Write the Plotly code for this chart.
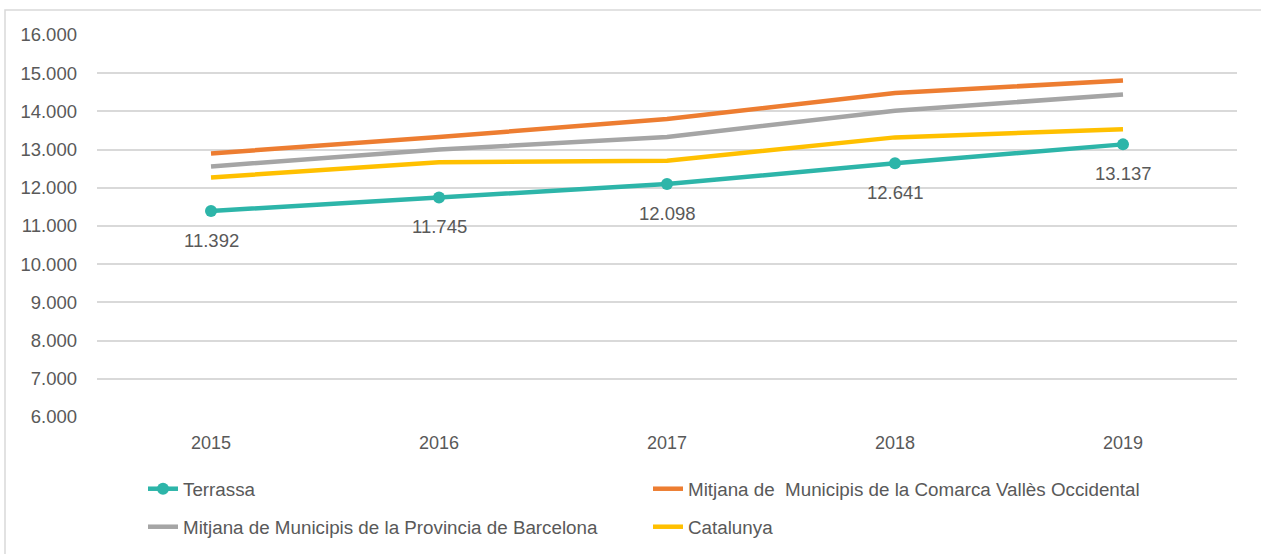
import plotly.graph_objects as go

years = ["2015", "2016", "2017", "2018", "2019"]
terrassa = [11392, 11745, 12098, 12641, 13137]
comarca = [12900, 13330, 13800, 14480, 14810]
provincia = [12560, 13000, 13330, 14020, 14440]
catalunya = [12270, 12670, 12710, 13320, 13530]

names = {
    "terrassa": "Terrassa",
    "comarca": "Mitjana de  Municipis de la Comarca Vallès Occidental",
    "provincia": "Mitjana de Municipis de la Provincia de Barcelona",
    "catalunya": "Catalunya",
}

FONT = "Liberation Sans"
TXT = "#595959"
W, H = 1261, 554
ML, MR, MT, MB = 97, 24, 35, 137
PW, PH = W - ML - MR, H - MT - MB

def px_x(p):
    return (p - ML) / PW

def px_y(p):
    return (H - MB - p) / PH

fig = go.Figure()
fig.add_trace(go.Scatter(x=years, y=catalunya, name=names["catalunya"], mode="lines",
                         line=dict(color="#FFC000", width=4.5), legend="legend2"))
fig.add_trace(go.Scatter(x=years, y=provincia, name=names["provincia"], mode="lines",
                         line=dict(color="#A5A5A5", width=4.5), legend="legend2"))
fig.add_trace(go.Scatter(x=years, y=comarca, name=names["comarca"], mode="lines",
                         line=dict(color="#ED7D31", width=4.5), legend="legend"))
fig.add_trace(go.Scatter(x=years, y=terrassa, name=names["terrassa"], mode="lines+markers",
                         line=dict(color="#2DB5A9", width=4.5),
                         marker=dict(color="#2DB5A9", size=12), legend="legend"))

for i, v in enumerate(terrassa):
    fig.add_annotation(x=i, y=v, xref="x", yref="y", text=f"{v:,}".replace(",", "."),
                       showarrow=False, yshift=-29,
                       font=dict(family=FONT, size=18.5, color=TXT))

fig.add_shape(type="rect", xref="paper", yref="paper",
              x0=px_x(5), x1=px_x(1266), y0=px_y(10), y1=px_y(560),
              line=dict(color="#D9D9D9", width=1.5), fillcolor="rgba(0,0,0,0)", layer="below")

leg_common = dict(orientation="h", xanchor="left", yanchor="middle", entrywidth=460,
                  entrywidthmode="pixels", font=dict(family=FONT, size=18.8, color=TXT),
                  bgcolor="rgba(0,0,0,0)", traceorder="reversed")
fig.update_layout(
    width=W, height=H,
    margin=dict(l=ML, r=MR, t=MT, b=MB, autoexpand=False),
    paper_bgcolor="white", plot_bgcolor="white",
    separators=",.",
    showlegend=True,
    legend=dict(x=px_x(143), y=px_y(489), **leg_common),
    legend2=dict(x=px_x(143), y=px_y(527), **leg_common),
    xaxis=dict(type="category", range=[-0.5, 4.5], showgrid=False, zeroline=False,
               showline=False, ticks="", tickfont=dict(family=FONT, size=18, color=TXT),
               ticklabelstandoff=13, automargin=False),
    yaxis=dict(range=[6000, 16000], dtick=1000, tickformat=",d", showgrid=True,
               gridcolor="#D9D9D9", gridwidth=1.5, zeroline=False, showline=False, ticks="",
               tickfont=dict(family=FONT, size=18.5, color=TXT), ticklabelstandoff=19,
               automargin=False),
)

fig.write_html("out.html", config={"displayModeBar": False},
               post_script="document.body.style.margin='0';")
